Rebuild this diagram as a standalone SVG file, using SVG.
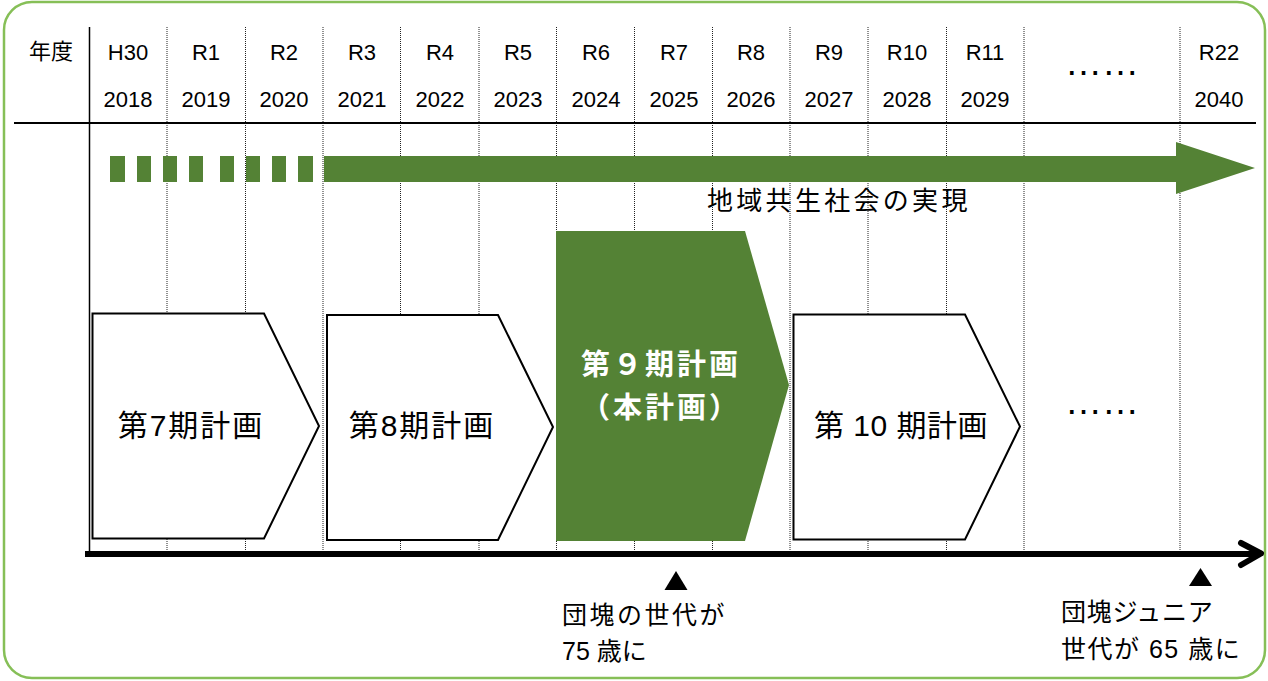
<svg xmlns="http://www.w3.org/2000/svg" width="1268" height="681" viewBox="0 0 1268 681">
<style>
.hdr{font-family:"Liberation Sans","Noto Sans CJK JP",sans-serif;font-size:22px;fill:#000;text-anchor:middle}
.jp{font-family:"Liberation Sans","Noto Sans CJK JP",sans-serif;fill:#000}
.plan{font-family:"Liberation Sans","Noto Sans CJK JP",sans-serif;font-size:30px;fill:#000;text-anchor:middle;letter-spacing:2px}
.plan9{font-family:"Noto Sans CJK JP",sans-serif;font-size:29px;font-weight:bold;fill:#fff;text-anchor:middle;letter-spacing:3px}
.grid{stroke:#222;stroke-width:1;stroke-dasharray:1 1;fill:none}
.box{fill:#fff;stroke:#000;stroke-width:2}
.green{fill:#548235}
.dots{font-family:"Liberation Sans",sans-serif;font-size:37px;fill:#000;text-anchor:middle}
</style>
<rect x="4" y="2" width="1261" height="676" rx="28" ry="28" fill="#fff" stroke="#86bf57" stroke-width="2.5"/>

<g id="grid">
  <line class="grid" x1="167" y1="27" x2="167" y2="552"/>
  <line class="grid" x1="245.5" y1="27" x2="245.5" y2="552"/>
  <line class="grid" x1="323" y1="27" x2="323" y2="552"/>
  <line class="grid" x1="400.5" y1="27" x2="400.5" y2="552"/>
  <line class="grid" x1="479" y1="27" x2="479" y2="552"/>
  <line class="grid" x1="556.5" y1="27" x2="556.5" y2="552"/>
  <line class="grid" x1="634.5" y1="27" x2="634.5" y2="552"/>
  <line class="grid" x1="712.5" y1="27" x2="712.5" y2="552"/>
  <line class="grid" x1="790" y1="27" x2="790" y2="552"/>
  <line class="grid" x1="868" y1="27" x2="868" y2="552"/>
  <line class="grid" x1="946.5" y1="27" x2="946.5" y2="552"/>
  <line class="grid" x1="1024" y1="27" x2="1024" y2="552"/>
  <line class="grid" x1="1180" y1="27" x2="1180" y2="552"/>
  <line x1="89.5" y1="27" x2="89.5" y2="555" stroke="#000" stroke-width="1.5"/>
  <line x1="14" y1="123" x2="1256" y2="123" stroke="#000" stroke-width="2"/>
</g>

<g id="header">
  <text class="jp" x="51" y="59" font-size="22" text-anchor="middle">年度</text>
  <text class="hdr" x="128" y="60">H30</text><text class="hdr" x="128" y="107">2018</text>
  <text class="hdr" x="206" y="60">R1</text><text class="hdr" x="206" y="107">2019</text>
  <text class="hdr" x="284" y="60">R2</text><text class="hdr" x="284" y="107">2020</text>
  <text class="hdr" x="362" y="60">R3</text><text class="hdr" x="362" y="107">2021</text>
  <text class="hdr" x="440" y="60">R4</text><text class="hdr" x="440" y="107">2022</text>
  <text class="hdr" x="518" y="60">R5</text><text class="hdr" x="518" y="107">2023</text>
  <text class="hdr" x="596" y="60">R6</text><text class="hdr" x="596" y="107">2024</text>
  <text class="hdr" x="674" y="60">R7</text><text class="hdr" x="674" y="107">2025</text>
  <text class="hdr" x="751" y="60">R8</text><text class="hdr" x="751" y="107">2026</text>
  <text class="hdr" x="829" y="60">R9</text><text class="hdr" x="829" y="107">2027</text>
  <text class="hdr" x="907" y="60">R10</text><text class="hdr" x="907" y="107">2028</text>
  <text class="hdr" x="985" y="60">R11</text><text class="hdr" x="985" y="107">2029</text>
  <text class="dots" x="1102" y="75">……</text>
  <text class="hdr" x="1219" y="60">R22</text><text class="hdr" x="1219" y="107">2040</text>
</g>

<g id="vision-arrow">
  <rect class="green" x="110" y="156" width="15" height="26"/>
  <rect class="green" x="137" y="156" width="14" height="26"/>
  <rect class="green" x="163" y="156" width="14" height="26"/>
  <rect class="green" x="189" y="156" width="14" height="26"/>
  <rect class="green" x="220" y="156" width="14" height="26"/>
  <rect class="green" x="246" y="156" width="14" height="26"/>
  <rect class="green" x="272" y="156" width="14" height="26"/>
  <rect class="green" x="298" y="156" width="15" height="26"/>
  <polygon class="green" points="324,156 1176,156 1176,142 1255,168 1176,194 1176,182 324,182"/>
  <text class="jp" x="707" y="210" font-size="26" letter-spacing="3.3">地域共生社会の実現</text>
</g>

<g id="plan7">
  <polygon class="box" points="92.5,313.5 264,313.5 319,426 264,538.5 92.5,538.5"/>
  <text class="plan" x="191" y="436">第7期計画</text>
</g>
<g id="plan8">
  <polygon class="box" points="327,315 498,315 553,427 498,540 327,540"/>
  <text class="plan" x="422" y="436">第8期計画</text>
</g>
<g id="plan9">
  <polygon class="green" points="556,231 745,231 789,385 745,541 556,541"/>
  <text class="plan9" x="661" y="375">第９期計画</text>
  <text class="plan9" x="661" y="418">（本計画）</text>
</g>
<g id="plan10">
  <polygon class="box" points="793.5,314.5 965,314.5 1020,426.5 965,539.5 793.5,539.5"/>
  <text class="plan" x="901" y="436" style="letter-spacing:0.5px">第 10 期計画</text>
</g>
<text class="dots" x="1102" y="414">……</text>

<g id="connectors">
  <line x1="85" y1="554" x2="1258" y2="554" stroke="#000" stroke-width="6"/>
  <polyline points="1241,543 1261,553.5 1241,565" fill="none" stroke="#000" stroke-width="6" stroke-linecap="round" stroke-linejoin="round"/>
</g>

<g id="marker-75">
  <polygon points="676,571 687.5,590 664.5,590" fill="#000"/>
  <text class="jp" x="562" y="624" font-size="25" letter-spacing="2.5">団塊の世代が</text>
  <text class="jp" x="562" y="660" font-size="25">75 歳に</text>
</g>
<g id="marker-65">
  <polygon points="1200.5,568 1212,586 1189,586" fill="#000"/>
  <text class="jp" x="1061" y="621" font-size="25" letter-spacing="0.7">団塊ジュニア</text>
  <text class="jp" x="1061" y="658" font-size="25" letter-spacing="1.5">世代が 65 歳に</text>
</g>
</svg>
